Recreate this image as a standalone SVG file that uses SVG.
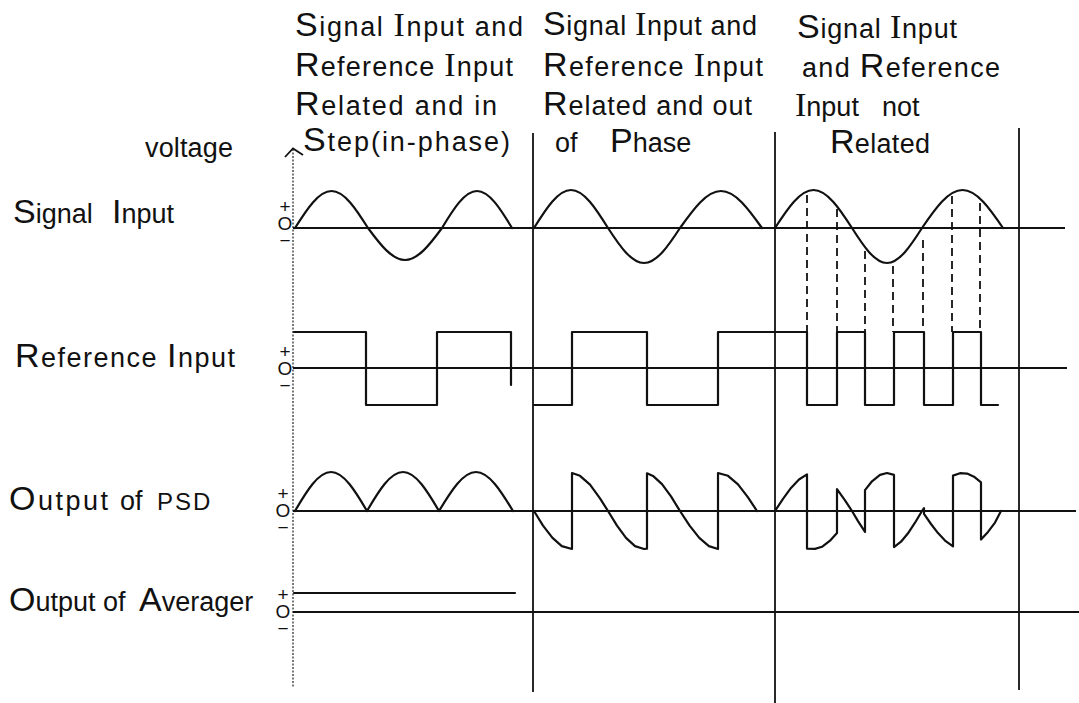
<svg xmlns="http://www.w3.org/2000/svg" width="1079" height="703" viewBox="0 0 1079 703">
<style>
.lc{font-family:"Liberation Sans",Arial,sans-serif;font-size:27px;fill:#111}
.cap{font-size:34px}
.si{font-family:"Liberation Serif","Times New Roman",serif;font-size:34px}
.sm{font-size:24px}
.mk{font-family:"Liberation Sans",Arial,sans-serif;font-size:19px;letter-spacing:-4px;fill:#111;text-anchor:middle;writing-mode:vertical-rl;text-orientation:upright}
.grid{stroke:#111;stroke-width:1.8;fill:none}
.axis{stroke:#333;stroke-width:1.3;fill:none;stroke-dasharray:2 1.5}
.wave{stroke:#111;stroke-width:2.2;fill:none;stroke-linejoin:round;stroke-linecap:round}
.dash{stroke:#111;stroke-width:1.8;fill:none;stroke-dasharray:8 5}
</style>
<rect width="1079" height="703" fill="#fff"/>

<g id="axes">
  <line class="axis" x1="293" y1="149" x2="293" y2="688"/>
  <polyline class="grid" points="285,157 293,148.5 303,155" stroke-width="1.6"/>
  <line class="grid" x1="533" y1="133" x2="533" y2="692"/>
  <line class="grid" x1="775" y1="132" x2="775" y2="703"/>
  <line class="grid" x1="1019" y1="128" x2="1019" y2="690"/>
  <line class="grid" x1="293" y1="228" x2="1065" y2="228"/>
  <line class="grid" x1="293" y1="368" x2="1067" y2="368"/>
  <line class="grid" x1="293" y1="511" x2="1076" y2="511"/>
  <line class="grid" x1="293" y1="612" x2="1079" y2="612"/>
</g>

<g id="headers">
  <text class="lc" x="295" y="36" textLength="228" lengthAdjust="spacing"><tspan class="cap">S</tspan>ignal <tspan class="si">I</tspan>nput and</text>
  <text class="lc" x="295" y="76" textLength="218" lengthAdjust="spacing"><tspan class="cap">R</tspan>eference <tspan class="si">I</tspan>nput</text>
  <text class="lc" x="295" y="115" textLength="202" lengthAdjust="spacing"><tspan class="cap">R</tspan>elated and in</text>
  <text class="lc" x="303" y="151" textLength="207" lengthAdjust="spacing"><tspan class="cap">S</tspan>tep(in-phase)</text>

  <text class="lc" x="543" y="35" textLength="214" lengthAdjust="spacing"><tspan class="cap">S</tspan>ignal <tspan class="si">I</tspan>nput and</text>
  <text class="lc" x="543" y="76" textLength="220" lengthAdjust="spacing"><tspan class="cap">R</tspan>eference <tspan class="si">I</tspan>nput</text>
  <text class="lc" x="543" y="115" textLength="209" lengthAdjust="spacing"><tspan class="cap">R</tspan>elated and out</text>
  <text class="lc" y="152"><tspan x="555">of</tspan><tspan x="610" class="cap">P</tspan>hase</text>

  <text class="lc" x="797" y="38" textLength="160" lengthAdjust="spacing"><tspan class="cap">S</tspan>ignal <tspan class="si">I</tspan>nput</text>
  <text class="lc" x="802" y="77" textLength="198" lengthAdjust="spacing">and <tspan class="cap">R</tspan>eference</text>
  <text class="lc" y="116"><tspan x="795" class="si">I</tspan>nput<tspan x="882">not</tspan></text>
  <text class="lc" x="830" y="153" textLength="100" lengthAdjust="spacing"><tspan class="cap">R</tspan>elated</text>
</g>

<g id="labels">
  <text class="lc" x="145" y="157" font-size="24" textLength="88" lengthAdjust="spacing">voltage</text>
  <text class="lc" y="223"><tspan x="13" class="cap">S</tspan>ignal<tspan x="112" class="cap">I</tspan>nput</text>
  <text class="lc" x="15" y="367" textLength="220" lengthAdjust="spacing"><tspan class="cap">R</tspan>eference <tspan class="cap">I</tspan>nput</text>
  <text class="lc" y="510"><tspan x="9" letter-spacing="2.5"><tspan class="cap">O</tspan>utput</tspan><tspan x="120">of</tspan><tspan x="157" class="sm" letter-spacing="2">PSD</tspan></text>
  <text class="lc" y="611"><tspan x="9"><tspan class="cap">O</tspan>utput</tspan><tspan x="103">of</tspan><tspan x="139" class="cap">A</tspan>verager</text>
</g>

<g id="polarity-marks">
  <text class="mk" x="285" y="221">+O−</text>
  <text class="mk" x="285" y="366">+O−</text>
  <text class="mk" x="283" y="508">+O−</text>
  <text class="mk" x="283" y="609">+O−</text>
</g>

<g id="signal-input">
  <path class="wave" d="M295,228 C306.9,209.1 318.7,191 331.5,191 C344.4,191 356.1,209.1 368,228 C380.1,244.4 392,260 405,260 C418,260 429.9,244.4 442,228 C453.4,209.1 464.7,191 477,191 C489.3,191 500.6,209.1 512,228"/>
  <path class="wave" d="M534,228 C546.1,208.5 558,190 571,190 C584,190 595.9,208.5 608,228 C619.7,245.9 631.3,263 644,263 C656.7,263 668.3,245.9 680,228 C693.4,209.1 706.6,191 721,191 C735.4,191 748.6,209.1 762,228"/>
  <path class="wave" d="M775,228 C787.6,208.5 800,190 813.5,190 C827,190 839.5,208.5 852,228 C863.4,245.9 874.7,263 887,263 C899.3,263 910.6,245.9 922,228 C935.2,208.5 948.2,190 962.5,190 C976.8,190 989.8,208.5 1003,228"/>
</g>

<g id="sampling-lines">
  <line class="dash" x1="807" y1="195" x2="807" y2="332"/>
  <line class="dash" x1="837" y1="209" x2="837" y2="332"/>
  <line class="dash" x1="865" y1="251" x2="865" y2="332"/>
  <line class="dash" x1="893" y1="266" x2="893" y2="332"/>
  <line class="dash" x1="923" y1="240" x2="923" y2="332"/>
  <line class="dash" x1="952" y1="196" x2="952" y2="332"/>
  <line class="dash" x1="980" y1="203" x2="980" y2="332"/>
</g>

<g id="reference-input">
  <path class="wave" d="M294,332 H366 V405 H437 V332 H511 V385"/>
  <path class="wave" d="M534,405 H572 V332 H647 V405 H718 V332 H807 V405 H837 V332 H865 V405 H894 V332 H924 V405 H953 V332 H981 V405 H998"/>
</g>

<g id="psd-output">
  <path class="wave" d="M295,511 C306.7,491 318.3,472 331,472 C343.7,472 355.3,491 367,511 C378.7,491 390.3,472 403,472 C415.7,472 427.3,491 439,511 C451.1,491 463,472 476,472 C489,472 500.9,491 513,511"/>
  <polyline class="wave" points="534,511 543,525.6 552.5,537.9 561.8,546.1 572,549 572,473 580,475.8 590,484.6 600,498.3 608,511 617,525.6 626,537.9 635,546.1 644,549 647,548.7 647,473.3 653,475.9 662,484.1 671,496.4 680,511 689.6,525.6 699.3,537.9 708.9,546.1 718,549 718,473 728,475.8 738,484.4 748,497.4 757,511"/>
  <polyline class="wave" points="775,511 783,498.8 791,487.9 799,479.5 807,474.3 807,548.7 815,548.9 822,546.8 830,540.7 837,532.9 837,489.2 845,500.3 852,511 858,521.1 865,531.9 865,490.1 872,481.3 880,474.9 887,473 894,474.9 894,547.1 901,541.7 908,533.3 915,522.7 922,511 924,508.1 924,513.9 931,524 938,533.1 945,540.6 953,546.4 953,475.6 960,473.2 967,473.6 974,476.7 981,482.4 981,539.6 988,531.9 995,522.6 1001,511"/>
</g>

<g id="averager-output">
  <line class="wave" x1="294" y1="593" x2="515" y2="593"/>
</g>
</svg>
